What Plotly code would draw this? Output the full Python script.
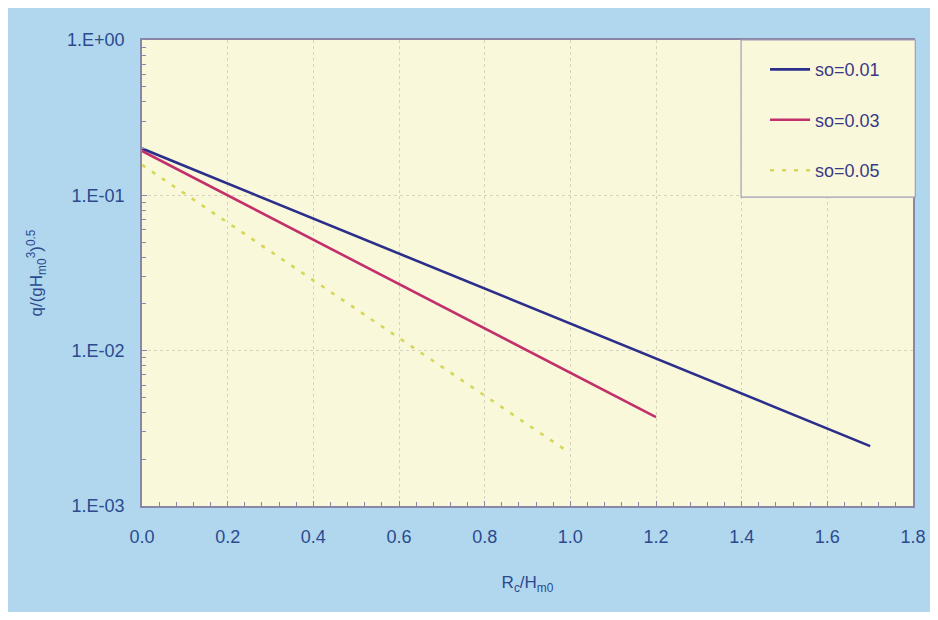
import plotly.graph_objects as go

# Data (straight lines on log scale)
x_so001 = [0.0, 1.7]
y_so001 = [0.200, 0.00243]
x_so003 = [0.0, 1.2]
y_so003 = [0.193, 0.00373]
x_so005 = [0.0, 0.99]
y_so005 = [0.157, 0.00228]

names = ["so=0.01", "so=0.03", "so=0.05"]
colors = ["#2B2E8A", "#C2306C", "#D6D65A"]

x_ticks = [0.0, 0.2, 0.4, 0.6, 0.8, 1.0, 1.2, 1.4, 1.6, 1.8]
x_ticktext = ["0.0", "0.2", "0.4", "0.6", "0.8", "1.0", "1.2", "1.4", "1.6", "1.8"]
y_ticks = [0.001, 0.01, 0.1, 1.0]
y_ticktext = ["1.E-03", "1.E-02", "1.E-01", "1.E+00"]

TXT = "#2C4A8E"
FONT = "Liberation Sans, Arial, sans-serif"

fig = go.Figure()
series = [(x_so001, y_so001, "solid"), (x_so003, y_so003, "solid"), (x_so005, y_so005, "dot")]
for i, (xs, ys, dash) in enumerate(series):
    fig.add_trace(go.Scatter(
        x=xs, y=ys, mode="lines", name=names[i],
        line=dict(color=colors[i], width=2.6, dash=dash if dash == "solid" else "4px,8px"),
        legendgroup=names[i],
    ))

fig.update_layout(
    width=930, height=604,
    margin=dict(l=134, r=25, t=32, b=106),
    paper_bgcolor="#B1D7EE",
    plot_bgcolor="#FAF8DA",
    font=dict(family=FONT, size=18, color=TXT),
    showlegend=True,
    legend=dict(
        x=0.777, y=0.976, xanchor="left", yanchor="top",
        bgcolor="rgba(0,0,0,0)", borderwidth=0,
        font=dict(size=18, color="#3A3A88"),
        tracegroupgap=24, traceorder="grouped",
        itemwidth=40, indentation=24,
    ),
    shapes=[
        dict(type="rect", xref="paper", yref="paper", x0=0.777, x1=1.003, y0=0.663, y1=1.0,
             fillcolor="#FAF8DA", line=dict(color="#A39CB8", width=1.2), layer="above"),
    ],
    xaxis=dict(
        range=[0, 1.8], tickmode="array", tickvals=x_ticks, ticktext=x_ticktext,
        ticks="inside", ticklen=5, tickcolor="#8A86A8",
        showgrid=True, gridcolor="#D6D4BE", griddash="dot", gridwidth=1,
        showline=True, linecolor="#8A86A8", linewidth=1.5, mirror=True,
        zeroline=False, ticklabelstandoff=14,
        minor=dict(ticks="inside", ticklen=4, dtick=0.04, tickcolor="#8A86A8", showgrid=False),
        title=dict(text="R<sub>c</sub>/H<sub>m0</sub>", font=dict(size=17, color=TXT), standoff=30),
        tickfont=dict(size=18, color=TXT),
    ),
    yaxis=dict(
        type="log", range=[-3, 0], tickmode="array", tickvals=y_ticks, ticktext=y_ticktext,
        ticks="inside", ticklen=5, tickcolor="#8A86A8",
        showgrid=True, gridcolor="#D6D4BE", griddash="dot", gridwidth=1,
        showline=True, linecolor="#8A86A8", linewidth=1.5, mirror=True,
        zeroline=False, ticklabelstandoff=12,
        minor=dict(ticks="inside", ticklen=4, dtick="D1", tickcolor="#8A86A8", showgrid=False),
        title=dict(text="q/(gH<sub>m0</sub><sup>3</sup>)<sup>0.5</sup>", font=dict(size=17, color=TXT), standoff=20),
        tickfont=dict(size=18, color=TXT),
    ),
)

fig.write_html("out.html")
